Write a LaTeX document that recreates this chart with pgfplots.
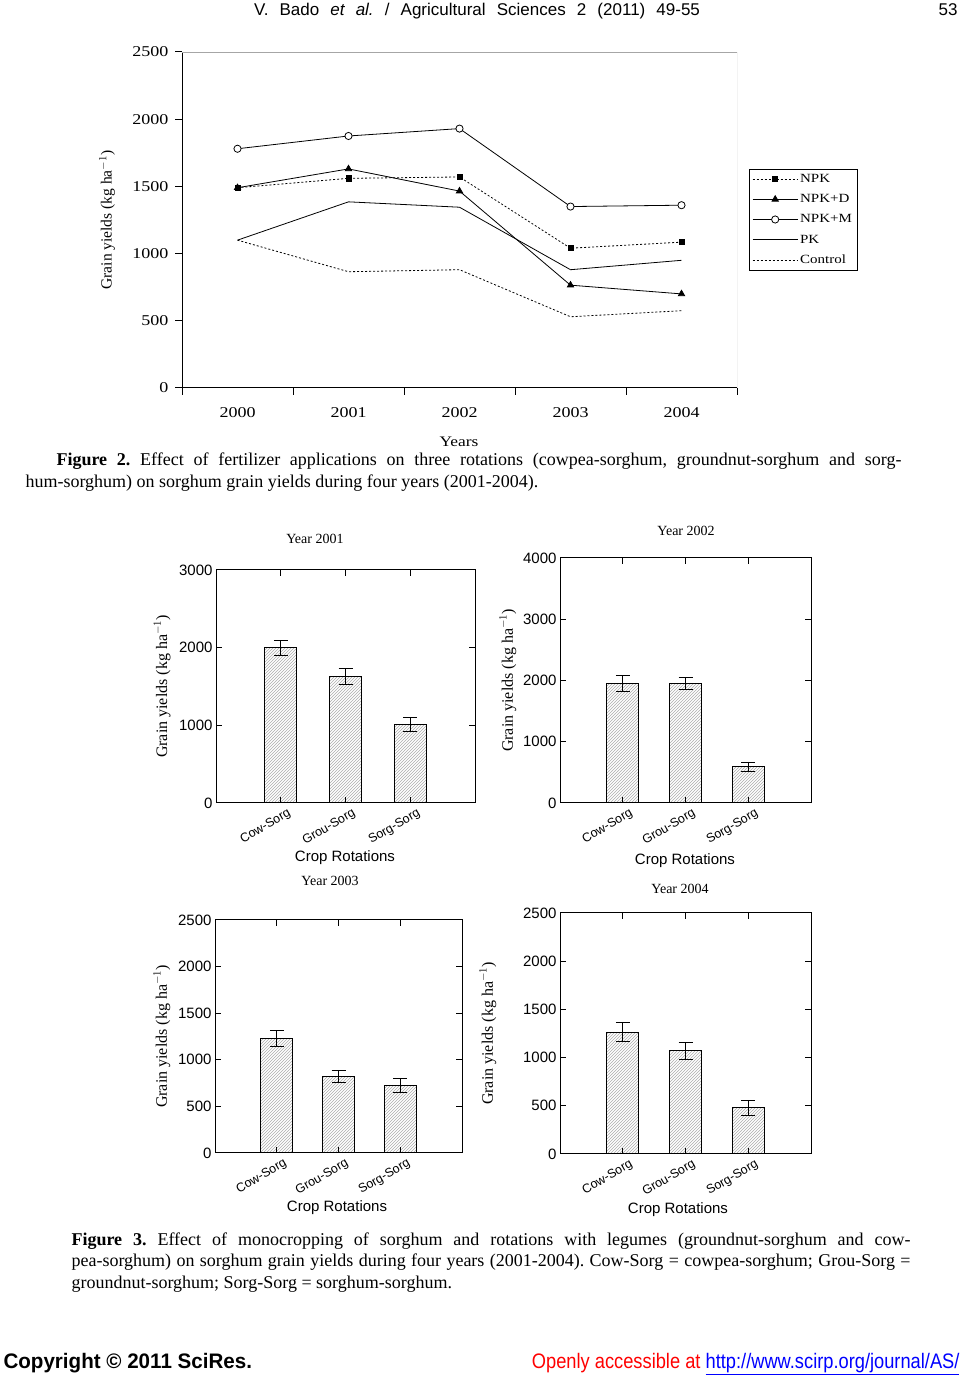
\documentclass[border=0pt]{standalone}
\usepackage{pgfplots}
\pgfplotsset{compat=1.18}
\usetikzlibrary{patterns}
\usepackage{fontspec}
\setmainfont{Liberation Serif}
\newfontfamily\arial{Liberation Sans}
\newfontfamily\timeswide[FakeStretch=1.2]{Liberation Serif}
\newfontfamily\footbold[FakeStretch=0.98]{Liberation Sans}
\newfontfamily\footreg[FakeStretch=0.87]{Liberation Sans}
\newcommand\fs[1]{\fontsize{#1}{#1}\selectfont}
\frenchspacing

% fig 2 data
\pgfplotstableread{
yr npk npkd npkm pk ctrl
2000 1490 1490 1780 1100 1100
2001 1560 1630 1875 1385 865
2002 1570 1465 1930 1345 880
2003 1040 765 1350 880 530
2004 1085 700 1360 950 575
}\fertil

% fig 3 data: x yield err
\pgfplotstableread{
x y e
1 2000 95
2 1630 100
3 1010 88
}\yrA
\pgfplotstableread{
x y e
1 1950 135
2 1950 92
3 590 80
}\yrB
\pgfplotstableread{
x y e
1 1225 85
2 820 65
3 725 77
}\yrC
\pgfplotstableread{
x y e
1 1265 100
2 1070 85
3 480 78
}\yrD

\pgfplotsset{
  /pgf/number format/assume math mode=true,
  /pgf/number format/1000 sep={},
  barchart/.style={
    scale only axis, anchor=south west, axis on top,
    xmin=0, xmax=4, ymin=0,
    xtick={1,2,3}, xticklabels={Cow-Sorg,Grou-Sorg,Sorg-Sorg},
    tick align=inside, major tick length=6pt,
    axis line style={line width=1pt}, tick style={line width=1pt, black},
    yticklabel style={font=\arial\fs{15}},
    xticklabel style={font=\arial\fs{12.5}, rotate=30, anchor=north east, inner sep=1pt, xshift=4pt, yshift=-6pt},
    ylabel={Grain yields (kg ha$^{-1}$)},
    ylabel style={font=\fs{16}, anchor=center},
    xlabel={Crop Rotations},
    xlabel style={font=\arial\fs{15}, anchor=center},
    title style={font=\fs{14}, anchor=center},
  },
  yieldbar/.style={
    ybar, bar width=32pt, draw=black, line width=0.9pt,
    pattern=north east lines, pattern color=black!32,
    error bars/.cd, y dir=both, y explicit,
    error bar style={line width=0.9pt, black},
    error mark options={rotate=90, mark size=7pt, line width=0.9pt, black},
  },
}

\begin{document}
\begin{tikzpicture}
\fill[white] (0pt,0pt) rectangle (964pt,1386pt);
\useasboundingbox (0pt,0pt) rectangle (964pt,1386pt);

% page header
\node[anchor=mid, font=\arial\fs{17}] at (477pt,1373pt) {\makebox[446pt][s]{V. Bado \textit{et al.\/} / Agricultural Sciences 2 (2011) 49-55}};
\node[anchor=mid east, font=\arial\fs{17}] at (961pt,1373pt) {53};

% Figure 2
\begin{axis}[
  at={(182pt,998pt)}, anchor=south west, scale only axis,
  width=555pt, height=336pt,
  xmin=1999.5, xmax=2004.5, ymin=0, ymax=2500,
  axis x line*=bottom, axis y line*=left,
  axis line style={line width=1pt},
  xtick={1999.5,2000.5,2001.5,2002.5,2003.5,2004.5}, xticklabels={},
  extra x ticks={2000,2001,2002,2003,2004},
  extra x tick labels={2000,2001,2002,2003,2004},
  extra x tick style={major tick length=0pt, xticklabel style={yshift=-16pt}},
  ytick={0,500,...,2500},
  tick align=outside, major tick length=7pt,
  tick style={line width=1pt, black},
  ticklabel style={font=\timeswide\fs{15}},
  yticklabel style={xshift=-3pt},
  ylabel={Grain yields (kg ha$^{-1}$)},
  ylabel style={font=\fs{15.5}, at={(axis description cs:-0.135,0.5)}, anchor=center},
  xlabel={Years},
  xlabel style={font=\timeswide\fs{14.5}, at={(axis description cs:0.499,0)}, yshift=-54pt, anchor=center},
  legend style={at={(axis description cs:1.0216,0.6518)}, anchor=north west,
    draw=black, line width=0.6pt, font=\timeswide\fs{12.5}, row sep=6.5pt, inner sep=3pt,
    cells={anchor=west}},
  legend image code/.code={
    \draw[mark repeat=2, mark phase=2, #1] plot coordinates {(0pt,0pt) (22.5pt,0pt) (45pt,0pt)};
  },
]
\draw[gray!70, line width=0.6pt] (rel axis cs:0,1) -- (rel axis cs:1,1) -- (rel axis cs:1,0);
\addplot[black, line width=0.8pt, dash pattern=on 2pt off 2pt, mark=square*, mark size=2.6pt, mark options={solid}] table[x=yr, y=npk] {\fertil};
\addlegendentry{NPK}
\addplot[black, line width=0.8pt, mark=triangle*, mark size=3.6pt] table[x=yr, y=npkd] {\fertil};
\addlegendentry{NPK+D}
\addplot[black, line width=0.8pt, mark=*, mark size=3.6pt, mark options={fill=white}] table[x=yr, y=npkm] {\fertil};
\addlegendentry{NPK+M}
\addplot[black, line width=0.8pt] table[x=yr, y=pk] {\fertil};
\addlegendentry{PK}
\addplot[black, line width=0.8pt, dash pattern=on 2pt off 2pt] table[x=yr, y=ctrl] {\fertil};
\addlegendentry{Control}
\end{axis}

\node[anchor=mid west, font=\fs{18}] at (53pt,923pt) {\makebox[845pt][s]{\textbf{Figure 2.} Effect of fertilizer applications on three rotations (cowpea-sorghum, groundnut-sorghum and sorg-}};
\node[anchor=mid west, font=\fs{18}] at (22pt,901pt) {hum-sorghum) on sorghum grain yields during four years (2001-2004).};

% Figure 3, year 2001
\begin{axis}[barchart, at={(216pt,583pt)}, width=259pt, height=233pt,
  ymax=3000, ytick={0,1000,2000,3000},
  title={Year 2001}, title style={at={(axis description cs:0.382,1)}, yshift=25pt},
  ylabel style={at={(axis description cs:-0.208,0.5)}},
  xlabel style={at={(axis description cs:0.498,0)}, yshift=-55pt}]
\addplot[yieldbar] table[x=x, y=y, y error=e] {\yrA};
\end{axis}

% year 2002
\begin{axis}[barchart, at={(560pt,583pt)}, width=251pt, height=245pt,
  ymax=4000, ytick={0,1000,2000,3000,4000},
  title={Year 2002}, title style={at={(axis description cs:0.502,1)}, yshift=21pt},
  ylabel style={at={(axis description cs:-0.207,0.5)}},
  xlabel style={at={(axis description cs:0.498,0)}, yshift=-58pt}]
\addplot[yieldbar] table[x=x, y=y, y error=e] {\yrB};
\end{axis}

% year 2003
\begin{axis}[barchart, at={(215pt,233pt)}, width=247pt, height=233pt,
  ymax=2500, ytick={0,500,...,2500},
  title={Year 2003}, title style={at={(axis description cs:0.466,1)}, yshift=33pt},
  ylabel style={at={(axis description cs:-0.215,0.5)}},
  xlabel style={at={(axis description cs:0.494,0)}, yshift=-55pt}]
\addplot[yieldbar] table[x=x, y=y, y error=e] {\yrC};
\end{axis}

% year 2004
\begin{axis}[barchart, at={(560pt,232pt)}, width=251pt, height=241pt,
  ymax=2500, ytick={0,500,...,2500},
  title={Year 2004}, title style={at={(axis description cs:0.478,1)}, yshift=18pt},
  ylabel style={at={(axis description cs:-0.287,0.5)}},
  xlabel style={at={(axis description cs:0.47,0)}, yshift=-56pt}]
\addplot[yieldbar] table[x=x, y=y, y error=e] {\yrD};
\end{axis}

\node[anchor=mid west, font=\fs{18}] at (68pt,143pt) {\makebox[839pt][s]{\textbf{Figure 3.} Effect of monocropping of sorghum and rotations with legumes (groundnut-sorghum and cow-}};
\node[anchor=mid west, font=\fs{18}] at (68pt,122pt) {\makebox[839pt][s]{pea-sorghum) on sorghum grain yields during four years (2001-2004). Cow-Sorg = cowpea-sorghum; Grou-Sorg =}};
\node[anchor=mid west, font=\fs{18}] at (68pt,100pt) {groundnut-sorghum; Sorg-Sorg = sorghum-sorghum.};

% page footer
\node[anchor=mid west, font=\footbold\bfseries\fs{21}] at (0pt,20pt) {Copyright © 2011 SciRes.};
\node[anchor=mid east, font=\footreg\fs{21}] at (963pt,20pt) {\textcolor{red}{Openly accessible at} \textcolor{blue}{\underline{http://www.scirp.org/journal/AS/}}};
\end{tikzpicture}
\end{document}
